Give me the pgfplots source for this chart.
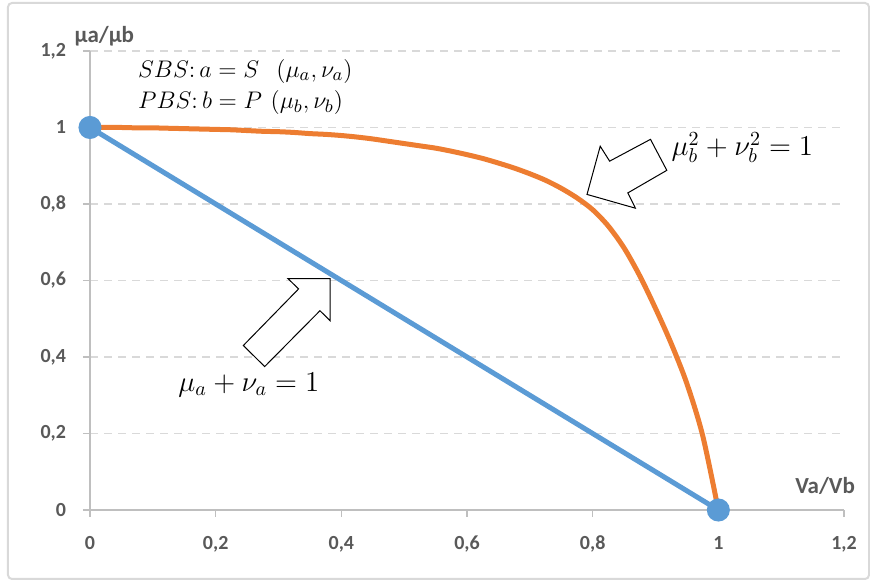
\documentclass[border=0pt]{standalone}
\usepackage{fontspec}
\usepackage{pgfplots}
\pgfplotsset{compat=1.18}
\newfontfamily\carlito{Carlito}
\definecolor{xblue}{HTML}{5B9BD5}
\definecolor{xorange}{HTML}{ED7D31}
\definecolor{tickgray}{HTML}{595959}
\definecolor{axgray}{HTML}{BFBFBF}
\definecolor{gridgray}{HTML}{D9D9D9}
\begin{document}
\begin{tikzpicture}
% 1px = 0.5pt, axis origin at pixel (90,510)
\useasboundingbox (-45pt,-35.5pt) rectangle (390pt,255pt);
\draw[gridgray, line width=1pt, rounded corners=2pt] (-41pt,-34.5pt) rectangle (389.5pt,253.5pt);
\begin{axis}[
    at={(0,0)}, anchor=south west,
    scale only axis,
    width=377pt, height=229.5pt,
    xmin=0, xmax=1.2, ymin=0, ymax=1.2,
    xtick={0,0.2,...,1.2}, ytick={0,0.2,...,1.2},
    axis lines=left,
    axis line style={-, axgray, line width=0.8pt},
    tick style={axgray, line width=0.8pt},
    tick align=outside,
    major tick length=3.5pt,
    ymajorgrids,
    grid style={gridgray, dash pattern=on 4pt off 3pt, line width=0.7pt},
    /pgf/number format/use comma,
    /pgf/number format/assume math mode=true,
    ticklabel style={font=\carlito\bfseries\fontsize{10}{12}\selectfont, text=tickgray},
    xticklabel style={yshift=-6pt},
    yticklabel style={xshift=-5pt},
    clip=false,
]
% block arrows
\draw[black, line width=0.5pt, fill=white]
  (axis cs:0.791,0.825) -- (axis cs:0.812,0.951) -- (axis cs:0.827,0.912)
  -- (axis cs:0.892,0.969) -- (axis cs:0.918,0.888) -- (axis cs:0.856,0.829)
  -- (axis cs:0.868,0.789) -- cycle;
\draw[black, line width=0.5pt, fill=white]
  (axis cs:0.382,0.605) -- (axis cs:0.315,0.605) -- (axis cs:0.332,0.578)
  -- (axis cs:0.244,0.430) -- (axis cs:0.278,0.375) -- (axis cs:0.366,0.521)
  -- (axis cs:0.382,0.495) -- cycle;
% mu_a + nu_a = 1
\addplot[xblue, line width=2.5pt, mark=*, mark size=4.5pt, mark options={fill=xblue, draw=xblue}]
  coordinates {(0,1) (1,0)};
% mu_b^2 + nu_b^2 = 1
\addplot[xorange, line width=2.5pt, smooth] coordinates {
  (0,1) (0.025,1) (0.05,1) (0.075,0.999) (0.1,0.999) (0.125,0.998)
  (0.15,0.997) (0.175,0.996) (0.2,0.995) (0.225,0.994) (0.25,0.992)
  (0.275,0.990) (0.3,0.989) (0.325,0.987) (0.35,0.984) (0.375,0.982)
  (0.4,0.979) (0.425,0.975) (0.45,0.970) (0.475,0.964) (0.5,0.958)
  (0.525,0.952) (0.55,0.946) (0.575,0.938) (0.6,0.929) (0.625,0.919)
  (0.65,0.907) (0.675,0.894) (0.7,0.879) (0.725,0.862) (0.75,0.841)
  (0.775,0.816) (0.8,0.785) (0.825,0.742) (0.85,0.685) (0.875,0.612)
  (0.9,0.527) (0.925,0.435) (0.95,0.330) (0.975,0.195) (1,0)
};
\node[anchor=west, inner sep=0pt, font=\fontsize{13.2}{15}\selectfont] at (axis cs:0.076,1.147) {$SBS\colon a = S\ \ (\mu_a,\nu_a)$};
\node[anchor=west, inner sep=0pt, font=\fontsize{13.2}{15}\selectfont] at (axis cs:0.076,1.065) {$PBS\colon b = P\ (\mu_b,\nu_b)$};
\node[anchor=west, inner sep=0pt, font=\fontsize{14.8}{16}\selectfont] at (axis cs:0.925,0.948) {$\mu_b^2+\nu_b^2=1$};
\node[anchor=west, inner sep=0pt, font=\fontsize{14.3}{16}\selectfont] at (axis cs:0.140,0.327) {$\mu_a+\nu_a=1$};
\node[font=\carlito\bfseries\fontsize{11.5}{13}\selectfont, text=tickgray] at (rel axis cs:0.019,1.033) {μa/μb};
\node[font=\carlito\bfseries\fontsize{11.5}{13}\selectfont, text=tickgray] at (rel axis cs:0.975,0.052) {Va/Vb};
\end{axis}
\end{tikzpicture}
\end{document}
